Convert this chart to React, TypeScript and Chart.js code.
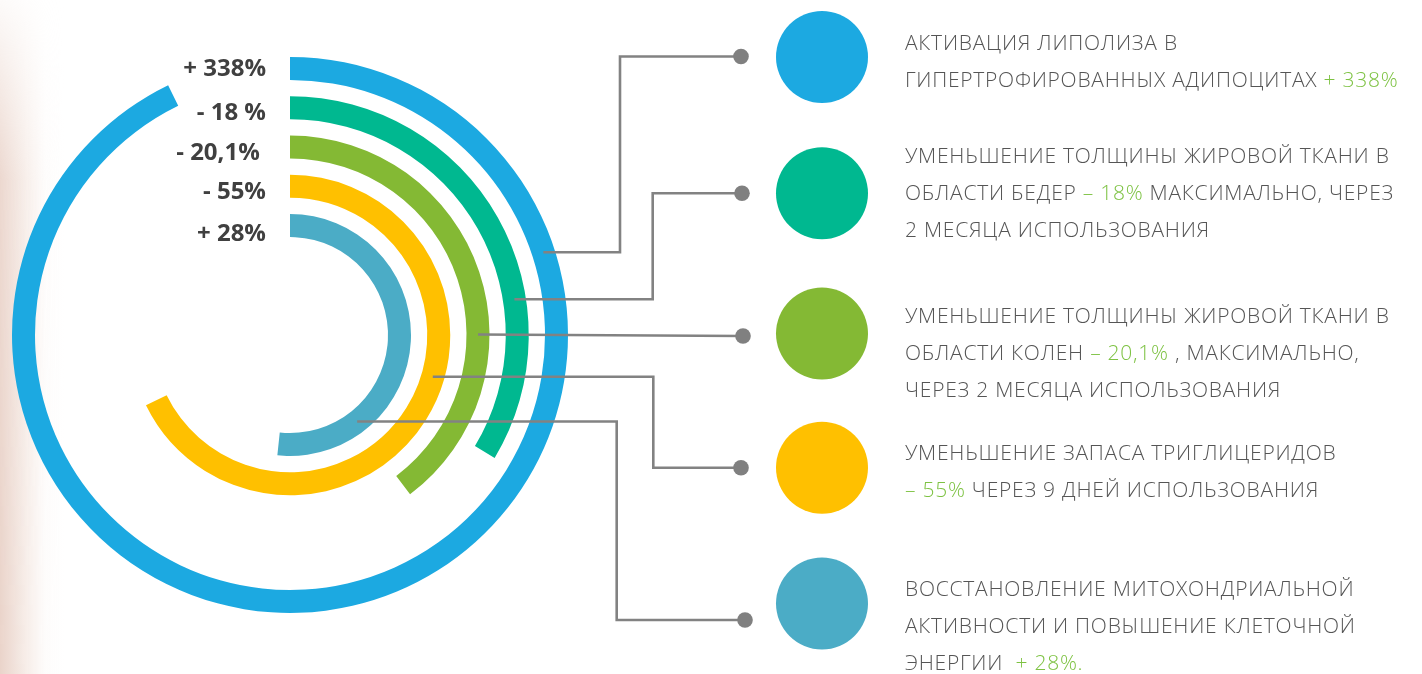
import React, { useEffect, useRef } from 'react';
import { Chart, registerables } from 'chart.js';

Chart.register(...registerables);

// ---- data ----
const categories = ['Липолиз', 'Бедра', 'Колени', 'Триглицериды', 'Митохондрии'];
const arcDegrees = [334, 121, 143, 244, 186]; // sweep of each ring, degrees of 360
const valueLabels = ['+ 338%', '- 18 %', '- 20,1% ', '- 55%', '+ 28%'];
const ringColors = ['#1CA9E1', '#00B890', '#84B934', '#FFC000', '#4BACC6'];

type Seg = [string, boolean?];
const descriptions: Seg[][][] = [
  [[['АКТИВАЦИЯ ЛИПОЛИЗА В']], [['ГИПЕРТРОФИРОВАННЫХ АДИПОЦИТАХ '], ['+ 338%', true]]],
  [
    [['УМЕНЬШЕНИЕ ТОЛЩИНЫ ЖИРОВОЙ ТКАНИ В']],
    [['ОБЛАСТИ БЕДЕР '], ['– 18%', true], [' МАКСИМАЛЬНО, ЧЕРЕЗ']],
    [['2 МЕСЯЦА ИСПОЛЬЗОВАНИЯ']],
  ],
  [
    [['УМЕНЬШЕНИЕ ТОЛЩИНЫ ЖИРОВОЙ ТКАНИ В']],
    [['ОБЛАСТИ КОЛЕН '], ['– 20,1%', true], [' , МАКСИМАЛЬНО,']],
    [['ЧЕРЕЗ 2 МЕСЯЦА ИСПОЛЬЗОВАНИЯ']],
  ],
  [[['УМЕНЬШЕНИЕ ЗАПАСА ТРИГЛИЦЕРИДОВ']], [['– 55%', true], [' ЧЕРЕЗ 9 ДНЕЙ ИСПОЛЬЗОВАНИЯ']]],
  [
    [['ВОССТАНОВЛЕНИЕ МИТОХОНДРИАЛЬНОЙ']],
    [['АКТИВНОСТИ И ПОВЫШЕНИЕ КЛЕТОЧНОЙ']],
    [['ЭНЕРГИИ  '], ['+ 28%.', true]],
  ],
];

// ---- layout (positions / styles) ----
const W = 1422;
const H = 674;
const RING_WEIGHT = 23;
const GAP_WEIGHT = 16.25;
const CUTOUT = 98;
const leaders = [
  { y: 252.3, elbowX: 620, dotX: 741, dotY: 56.5 },
  { y: 299.3, elbowX: 652.7, dotX: 742, dotY: 193.3 },
  { y: 334.5, elbowX: null as number | null, dotX: 743, dotY: 336 },
  { y: 376.7, elbowX: 653.3, dotX: 741, dotY: 467.7 },
  { y: 421.5, elbowX: 616.7, dotX: 745, dotY: 620 },
];
const markerX = 822;
const markerY = [57, 193.3, 333.5, 467.7, 603.5];
const markerR = 46;
const labelTops = [52.4, 95.7, 136.4, 175, 216.7];
const descTops = [23.5, 136.5, 296.5, 433.5, 569.5];

const ringIndexes = [0, 2, 4, 6, 8];

const leaderPlugin = {
  id: 'leaders',
  afterDatasetsDraw(chart: any) {
    const ctx = chart.ctx as CanvasRenderingContext2D;
    ctx.save();
    ringIndexes.forEach((dsIdx, i) => {
      const arc: any = chart.getDatasetMeta(dsIdx).data[0];
      const { x: cx, y: cy, innerRadius, outerRadius } = arc.getProps(
        ['x', 'y', 'innerRadius', 'outerRadius'],
        true
      );
      const rm = (innerRadius + outerRadius) / 2;
      const L = leaders[i];
      const dy = L.y - cy;
      const sx = cx + Math.sqrt(Math.max(rm * rm - dy * dy, 0));
      ctx.strokeStyle = '#828282';
      ctx.lineWidth = 2.6;
      ctx.lineJoin = 'miter';
      ctx.beginPath();
      ctx.moveTo(sx, L.y);
      if (L.elbowX !== null) {
        ctx.lineTo(L.elbowX, L.y);
        ctx.lineTo(L.elbowX, L.dotY);
        ctx.lineTo(L.dotX, L.dotY);
      } else {
        ctx.lineTo(L.dotX, L.dotY);
      }
      ctx.stroke();
      ctx.fillStyle = '#808080';
      ctx.beginPath();
      ctx.arc(L.dotX, L.dotY, 7.8, 0, Math.PI * 2);
      ctx.fill();
      // legend marker
      ctx.fillStyle = ringColors[i];
      ctx.beginPath();
      ctx.arc(markerX, markerY[i], markerR, 0, Math.PI * 2);
      ctx.fill();
    });
    ctx.restore();
  },
};

export default function App() {
  const ref = useRef<HTMLCanvasElement | null>(null);

  useEffect(() => {
    if (!ref.current) return;
    const datasets: any[] = [];
    arcDegrees.forEach((deg, i) => {
      datasets.push({
        label: categories[i],
        data: [deg, 360 - deg],
        backgroundColor: [ringColors[i], 'rgba(0,0,0,0)'],
        borderWidth: 0,
        hoverOffset: 0,
        weight: RING_WEIGHT,
      });
      if (i < arcDegrees.length - 1) {
        datasets.push({
          label: 'gap' + i,
          data: [1],
          backgroundColor: ['rgba(0,0,0,0)'],
          borderWidth: 0,
          hoverOffset: 0,
          weight: GAP_WEIGHT,
        });
      }
    });
    const chart = new Chart(ref.current, {
      type: 'doughnut',
      data: { labels: ['value', 'rest'], datasets },
      options: {
        responsive: false,
        animation: false,
        cutout: CUTOUT,
        rotation: 0,
        circumference: 360,
        layout: { padding: { left: 12, top: 57, right: W - 568, bottom: H - 613 } },
        plugins: { legend: { display: false }, tooltip: { enabled: false } },
        events: [],
      } as any,
      plugins: [leaderPlugin],
    });
    return () => chart.destroy();
  }, []);

  return (
    <div
      style={{
        position: 'absolute',
        left: 0,
        top: 0,
        width: W,
        height: H,
        overflow: 'hidden',
        background: '#ffffff',
      }}
    >
      <div
        style={{
          position: 'absolute',
          left: 0,
          top: 0,
          width: 70,
          height: H,
          background:
            'linear-gradient(to right, rgba(228,200,188,0.8) 0px, rgba(238,218,208,0.5) 25px, rgba(248,240,236,0.2) 45px, rgba(255,255,255,0) 65px)',
          WebkitMaskImage: 'linear-gradient(to bottom, rgba(0,0,0,0.1) 0px, rgba(0,0,0,0.9) 180px, #000 100%)',
          maskImage: 'linear-gradient(to bottom, rgba(0,0,0,0.1) 0px, rgba(0,0,0,0.9) 180px, #000 100%)',
        }}
      />
      <canvas
        ref={ref}
        width={W}
        height={H}
        style={{ position: 'absolute', left: 0, top: 0, width: W, height: H, display: 'block' }}
      />
      {valueLabels.map((t, i) => (
        <div
          key={'l' + i}
          style={{
            position: 'absolute',
            left: 0,
            width: 266,
            top: labelTops[i],
            textAlign: 'right',
            whiteSpace: 'pre',
            fontFamily: '"Open Sans", sans-serif',
            fontWeight: 700,
            fontSize: 24,
            lineHeight: '30px',
            color: '#404040',
          }}
        >
          {t}
        </div>
      ))}
      {descriptions.map((lines, i) => (
        <div
          key={'d' + i}
          style={{
            position: 'absolute',
            left: 905,
            top: descTops[i],
            whiteSpace: 'pre',
            fontFamily: '"Open Sans", sans-serif',
            fontWeight: 300,
            fontSize: 21,
            letterSpacing: '0.75px',
            lineHeight: '37px',
            color: '#555555',
          }}
        >
          {lines.map((segs, j) => (
            <div key={j}>
              {segs.map((s, k) => (
                <span key={k} style={{ color: s[1] ? '#7DC242' : undefined }}>
                  {s[0]}
                </span>
              ))}
            </div>
          ))}
        </div>
      ))}
    </div>
  );
}
